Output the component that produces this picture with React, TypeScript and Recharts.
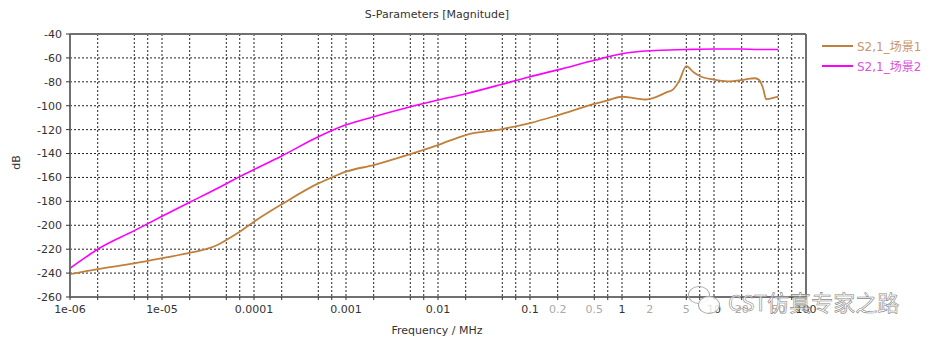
import React from "react";
import { LineChart, Line, XAxis, YAxis, CartesianGrid, ReferenceLine } from "recharts";

// Frequency (MHz) / magnitude (dB) samples
const s21Scene1Freq = [1e-6, 2e-6, 5e-6, 1e-5, 2e-5, 3e-5, 4e-5, 5e-5, 7e-5, 1e-4, 2e-4, 5e-4, 7e-4, 1e-3, 2e-3, 5e-3, 1e-2, 2e-2, 5e-2, 0.1, 0.2, 0.5, 0.7, 1, 1.4, 1.8, 2.4, 3, 3.6, 4.2, 5, 6, 7, 10, 14, 20, 25, 28, 31, 34, 37, 40, 50];
const s21Scene1dB = [-240.8, -236.6, -231.9, -227.6, -223, -220, -216.5, -212.3, -205.4, -197, -182.5, -165, -160, -155.2, -149.6, -140.4, -132.9, -124.5, -119.5, -114.5, -108, -98.5, -95.5, -92.5, -93.8, -94.8, -92.4, -89, -86.3, -79, -66.8, -72, -75.1, -78.2, -79.6, -78.5, -77.3, -77, -78.5, -85, -94.6, -94.2, -92.4];

const s21Scene2Freq = [1e-6, 1.5e-6, 2e-6, 5e-6, 1e-5, 2e-5, 5e-5, 7e-5, 1e-4, 2e-4, 5e-4, 1e-3, 2e-3, 5e-3, 1e-2, 2e-2, 5e-2, 0.1, 0.2, 0.5, 1, 2, 5, 10, 20, 30, 50];
const s21Scene2dB = [-236, -226.5, -220.1, -204.5, -192.5, -180.8, -165.2, -159.3, -153.4, -142, -126, -116, -109.2, -100.8, -95.2, -90, -82, -75.7, -70, -62, -56.5, -54, -53, -52.5, -52.5, -53, -53];

const xGridTicks = [
  1e-6, 2e-6, 5e-6, 7e-6,
  1e-5, 2e-5, 5e-5, 7e-5,
  1e-4, 2e-4, 5e-4, 7e-4,
  1e-3, 2e-3, 5e-3, 7e-3,
  1e-2, 2e-2, 5e-2, 7e-2,
  0.1, 0.2, 0.5, 0.7,
  1, 2, 5, 7,
  10, 20, 50, 70,
  100,
];
const xLabelValues = [1e-6, 1e-5, 1e-4, 1e-3, 1e-2, 0.1, 0.2, 0.5, 1, 2, 5, 10, 20, 50, 100];
const xLabelTexts = ["1e-06", "1e-05", "0.0001", "0.001", "0.01", "0.1", "0.2", "0.5", "1", "2", "5", "10", "20", "50", "100"];
const xLabelMajor = [true, true, true, true, true, true, false, false, true, false, false, true, false, false, true];

const yTicks = [-260, -240, -220, -200, -180, -160, -140, -120, -100, -80, -60, -40];

const scene1 = s21Scene1Freq.map((f, i) => ({ f, v: s21Scene1dB[i] }));
const scene2 = s21Scene2Freq.map((f, i) => ({ f, v: s21Scene2dB[i] }));

const FONT = "'DejaVu Sans', Verdana, sans-serif";

const XTick = (props: any) => {
  const { x, y, payload } = props;
  const val = payload.value;
  const idx = xLabelValues.findIndex((v) => Math.abs(v - val) / v < 1e-6);
  if (idx < 0) return null;
  return (
    <text x={x} y={y + 11} textAnchor="middle" fontSize={11} fontFamily={FONT} fill={xLabelMajor[idx] ? "#333" : "#aaa"}>
      {xLabelTexts[idx]}
    </text>
  );
};

export default function App() {
  return (
    <div style={{ position: "absolute", left: 0, top: 0, width: 940, height: 343, background: "#fff", fontFamily: FONT }}>
      <LineChart width={940} height={343} margin={{ top: 34, right: 134, bottom: 16, left: 8 }}>
        <CartesianGrid stroke="#222" strokeDasharray="2 2" strokeWidth={1} />
        <XAxis
          dataKey="f"
          type="number"
          scale="log"
          domain={[1e-6, 100]}
          allowDataOverflow
          ticks={xGridTicks}
          interval={0}
          tick={<XTick />}
          tickSize={3}
          height={30}
          axisLine={{ stroke: "#707070", strokeWidth: 2 }}
          tickLine={{ stroke: "#333" }}
        />
        <YAxis
          type="number"
          domain={[-260, -40]}
          ticks={yTicks}
          interval={0}
          width={62}
          tickSize={4}
          tickMargin={4}
          tick={{ fontSize: 11, fontFamily: FONT, fill: "#333" }}
          axisLine={{ stroke: "#707070", strokeWidth: 2 }}
          tickLine={{ stroke: "#333" }}
        />
        <ReferenceLine y={-40} stroke="#707070" strokeWidth={2} />
        <ReferenceLine x={100} stroke="#707070" strokeWidth={2} />
        <Line data={scene1} dataKey="v" type="monotone" stroke="#c0803c" strokeWidth={1.8} dot={false} isAnimationActive={false} />
        <Line data={scene2} dataKey="v" type="monotone" stroke="#ff00ff" strokeWidth={1.6} dot={false} isAnimationActive={false} />
      </LineChart>

      <div style={{ position: "absolute", left: 0, width: 874, top: 8, textAlign: "center", fontSize: 11, color: "#333" }}>
        S-Parameters [Magnitude]
      </div>
      <div style={{ position: "absolute", left: 0, width: 874, top: 324, textAlign: "center", fontSize: 11, color: "#333" }}>
        Frequency / MHz
      </div>
      <div style={{ position: "absolute", left: 9, top: 156, fontSize: 11, color: "#333", transform: "rotate(-90deg)", transformOrigin: "center" }}>
        dB
      </div>

      <div style={{ position: "absolute", left: 822, top: 45, width: 31, height: 0, borderTop: "2px solid #c0803c" }} />
      <div style={{ position: "absolute", left: 857, top: 37, fontSize: 12, color: "#c8976a", whiteSpace: "nowrap", fontFamily: "'DejaVu Sans', 'Noto Sans CJK SC', sans-serif" }}>
        S2,1_场景1
      </div>
      <div style={{ position: "absolute", left: 822, top: 65, width: 31, height: 0, borderTop: "2px solid #ff00ff" }} />
      <div style={{ position: "absolute", left: 857, top: 57, fontSize: 12, color: "#e050e0", whiteSpace: "nowrap", fontFamily: "'DejaVu Sans', 'Noto Sans CJK SC', sans-serif" }}>
        S2,1_场景2
      </div>

      <div style={{ position: "absolute", left: 688, top: 286, width: 20, height: 16, border: "1px solid #aaa", borderRadius: "50%" }} />
      <div style={{ position: "absolute", left: 698, top: 296, width: 20, height: 16, border: "1px solid #aaa", borderRadius: "50%", background: "rgba(255,255,255,0.85)" }} />
      <div style={{ position: "absolute", left: 728, top: 288, fontSize: 22, whiteSpace: "nowrap", color: "rgba(255,255,255,0.6)", WebkitTextStroke: "0.6px #888", fontFamily: "'Noto Sans CJK SC', sans-serif", lineHeight: "26px" }}>
        CST仿真专家之路
      </div>
    </div>
  );
}
